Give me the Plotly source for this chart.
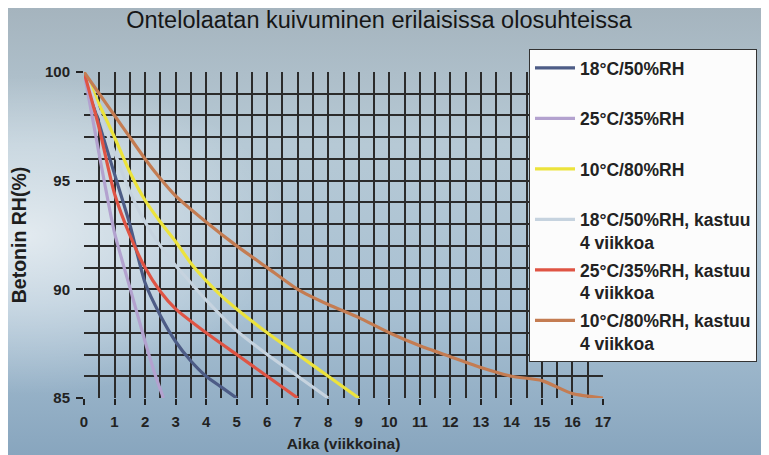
import base64
import plotly.graph_objects as go

# ---- data ----
s1_name = "18°C/50%RH"
s1_x = [0, 0.5, 1, 1.5, 2, 2.5, 3, 3.5, 4, 4.5, 5]
s1_y = [100, 97.6, 95.3, 93.0, 90.3, 88.8, 87.6, 86.7, 86.0, 85.5, 85.0]

s2_name = "25°C/35%RH"
s2_x = [0, 0.5, 1, 1.5, 2, 2.3, 2.6]
s2_y = [100, 96.2, 92.6, 90.1, 87.6, 86.2, 85.0]

s3_name = "10°C/80%RH"
s3_x = [0, 0.5, 1, 1.5, 2, 2.5, 3, 3.5, 4, 4.5, 5, 6, 7, 8, 9]
s3_y = [100, 98.5, 97.0, 95.4, 94.1, 93.1, 92.2, 91.2, 90.4, 89.7, 89.1, 88.0, 87.0, 86.0, 85.0]

s4_name = "18°C/50%RH, kastuu<br>4 viikkoa"
s4_x = [0, 0.5, 1, 1.5, 2, 2.5, 3, 3.5, 4, 5, 6, 7, 8]
s4_y = [100, 98.1, 96.3, 94.5, 93.1, 92.0, 91.1, 90.3, 89.5, 88.1, 87.0, 86.0, 85.0]

s5_name = "25°C/35%RH, kastuu<br>4 viikkoa"
s5_x = [0, 0.5, 1, 1.5, 2, 2.5, 3, 4, 5, 6, 7]
s5_y = [100, 97.4, 94.4, 92.5, 91.0, 89.9, 89.1, 88.0, 87.0, 86.0, 85.0]

s6_name = "10°C/80%RH, kastuu<br>4 viikkoa"
s6_x = [0, 0.5, 1, 1.5, 2, 2.5, 3, 4, 5, 6, 7, 8, 9, 10, 11, 12, 13, 14, 15, 16, 17]
s6_y = [100, 99.0, 98.0, 97.0, 96.0, 95.1, 94.3, 93.1, 92.0, 91.0, 90.0, 89.3, 88.7, 88.0,
        87.4, 86.9, 86.4, 86.0, 85.8, 85.2, 85.0]

x_ticks = list(range(0, 18))
y_ticks = [85, 90, 95, 100]

title_text = "Ontelolaatan kuivuminen erilaisissa olosuhteissa"
x_title = "Aika (viikkoina)"
y_title = "Betonin RH(%)"

# ---- styling ----
FONT = "Liberation Sans, Arial, sans-serif"
series = [
    (s1_name, s1_x, s1_y, "#4d5c86"),
    (s2_name, s2_x, s2_y, "#b3a2cf"),
    (s3_name, s3_x, s3_y, "#ece33c"),
    (s4_name, s4_x, s4_y, "#c6d3df"),
    (s5_name, s5_x, s5_y, "#df5444"),
    (s6_name, s6_x, s6_y, "#c47c52"),
]

fig = go.Figure()
for i, (name, xs, ys, col) in enumerate(series):
    label = name if "<br>" in name else name + "<br>\u00a0"
    fig.add_trace(go.Scatter(
        x=xs, y=ys, mode="lines", name=label, legendgroup=f"g{i}",
        line=dict(color=col, width=3.2, shape="spline", smoothing=0.6),
        hoverinfo="skip",
    ))

# background gradient (covers the whole figure)
svg = (
    '<svg xmlns="http://www.w3.org/2000/svg" width="769" height="455" '
    'viewBox="0 0 769 455" preserveAspectRatio="none">'
    '<defs>'
    '<linearGradient id="g" x1="0" y1="0" x2="0" y2="1">'
    '<stop offset="0" stop-color="#a5b4be"/>'
    '<stop offset="0.3" stop-color="#b6c9d5"/>'
    '<stop offset="0.65" stop-color="#a9c1d3"/>'
    '<stop offset="1" stop-color="#86a4bd"/>'
    '</linearGradient>'
    '<radialGradient id="r" cx="0.02" cy="0.5" r="0.35">'
    '<stop offset="0" stop-color="#ffffff" stop-opacity="0.65"/>'
    '<stop offset="1" stop-color="#ffffff" stop-opacity="0"/>'
    '</radialGradient>'
    '</defs>'
    '<rect width="769" height="455" fill="url(#g)"/>'
    '<rect width="769" height="455" fill="url(#r)"/>'
    '</svg>'
)
src = "data:image/svg+xml;base64," + base64.b64encode(svg.encode()).decode()

W, H = 769, 455
L, R, T, B = 76, 174, 64, 65
pw, ph = W - L - R, H - T - B
fig.add_layout_image(
    source=src, xref="paper", yref="paper",
    x=-L / pw, y=(H - B) / ph, sizex=W / pw, sizey=H / ph,
    xanchor="left", yanchor="top", sizing="stretch", layer="below",
)

grid_col = "#2b2b2b"
fig.update_layout(
    width=W, height=H,
    margin=dict(l=L, r=R, t=T, b=B, autoexpand=False),
    paper_bgcolor="#a9bcc8",
    plot_bgcolor="#f1f1f3",
    font=dict(family=FONT, color="#1e1e1e"),
    title=dict(text=title_text, x=371 / W, xref="container", xanchor="center",
               y=1 - 12 / H, yanchor="middle",
               font=dict(family=FONT, size=23.5, color="#161616")),
    showlegend=True,
    legend=dict(
        xref="container", yref="container",
        x=521 / W, y=1 - 41 / H, xanchor="left", yanchor="top",
        bgcolor="#fcfcfc", bordercolor="#333333", borderwidth=1,
        font=dict(family=FONT, size=17.5, color="#222222", weight="bold"),
        valign="top", itemwidth=40, traceorder="grouped", tracegroupgap=2,
        maxheight=400,
    ),
    xaxis=dict(
        range=[0, 17], tickvals=x_ticks, ticktext=[str(v) for v in x_ticks],
        showgrid=True, gridcolor=grid_col, gridwidth=1.7,
        minor=dict(dtick=0.5, tick0=0, showgrid=True, gridcolor=grid_col,
                   gridwidth=1.7, ticklen=0),
        ticks="outside", ticklen=6, tickwidth=1.5, tickcolor="#222",
        ticklabelstandoff=4,
        tickfont=dict(family=FONT, size=15, color="#222", weight="bold"),
        zeroline=False, showline=False,
        title=dict(text=x_title, standoff=9,
                   font=dict(family=FONT, size=15.5, color="#222", weight="bold")),
    ),
    yaxis=dict(
        range=[85, 100], tickvals=y_ticks, ticktext=[str(v) for v in y_ticks],
        showgrid=True, gridcolor=grid_col, gridwidth=1.7,
        minor=dict(dtick=1, tick0=85, showgrid=True, gridcolor=grid_col,
                   gridwidth=1.7, ticklen=0),
        ticks="outside", ticklen=7, tickwidth=1.5, tickcolor="#222",
        ticklabelstandoff=3,
        tickfont=dict(family=FONT, size=15, color="#222", weight="bold"),
        zeroline=False, showline=False,
        title=dict(text=y_title, standoff=16,
                   font=dict(family=FONT, size=19.5, color="#1e1e1e", weight="bold")),
    ),
)

fig.write_html("out.html")
